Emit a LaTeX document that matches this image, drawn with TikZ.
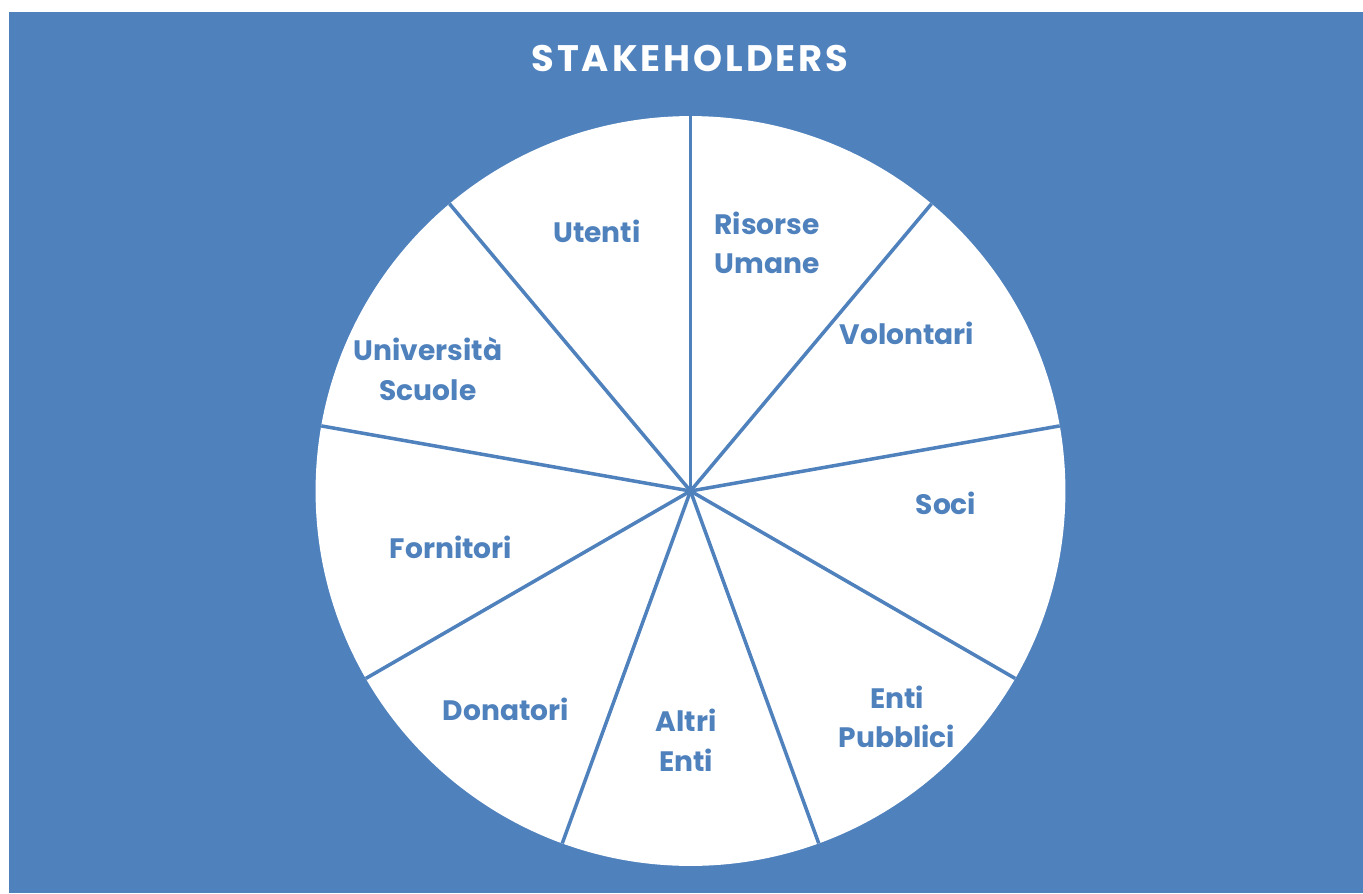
\documentclass[tikz,border=0pt]{standalone}
\usepackage{fontspec}
\setmainfont{Poppins}
\definecolor{shblue}{HTML}{4F81BD}

\begin{document}
\begin{tikzpicture}[
    x=0.02cm, y=-0.02cm,
    slice/.style={text=shblue, font=\bfseries\fontsize{16}{22.5}\selectfont, align=center},
    spoke/.style={draw=shblue, line width=2pt}
]
    \useasboundingbox (0,0) rectangle (1363,893);
    \fill[shblue] (8.5,12) rectangle (1363,893);

    % Title
    \node[text=white, font=\bfseries\fontsize{21}{24}\selectfont\addfontfeature{LetterSpace=8}] (title) at (690,58) {STAKEHOLDERS};

    % Pie
    \coordinate (centre) at (690.5,491);
    \fill[white] (centre) circle[radius=7.5cm];
    \foreach \a in {90,50,10,-30,-70,-110,-150,170,130}
        \draw[spoke] (centre) -- ++(\a:7.5cm);

    % Slice labels
    \node[slice] (risorse) at (767,243) {Risorse\\Umane};
    \node[slice] (volontari) at (907,333) {Volontari};
    \node[slice] (soci) at (946,503) {Soci};
    \node[slice] (pubblici) at (897,717) {Enti\\Pubblici};
    \node[slice] (altri) at (686,740) {Altri\\Enti};
    \node[slice] (donatori) at (506,709) {Donatori};
    \node[slice] (fornitori) at (451,547) {Fornitori};
    \node[slice] (universita) at (428,369) {Università\\Scuole};
    \node[slice] (utenti) at (597,231) {Utenti};
\end{tikzpicture}
\end{document}
